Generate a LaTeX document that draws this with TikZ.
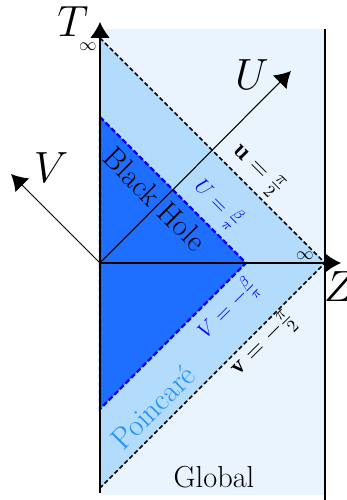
\documentclass[tikz,border=0pt]{standalone}
\usepackage{fontspec}
\usetikzlibrary{arrows.meta}
\definecolor{globalblue}{RGB}{234,244,254}
\definecolor{poinblue}{RGB}{179,219,251}
\definecolor{bhblue}{RGB}{30,110,255}
\definecolor{poinText}{RGB}{30,144,255}
\begin{document}
\begin{tikzpicture}[x=0.02cm,y=-0.02cm,
  axis/.style={line width=0.6pt,-{Latex[length=9pt,width=11pt]}},
  edge/.style={line width=1pt},
  bdash/.style={line width=0.9pt, dash pattern=on 2.5pt off 1.5pt},
  bluedash/.style={blue, line width=1.3pt, dash pattern=on 3pt off 1.5pt},
  axlab/.style={font=\Huge, inner sep=0pt},
  region/.style={font=\LARGE, inner sep=0pt},
  mathlab/.style={font=\Large, inner sep=0pt},
  bluelab/.style={font=\large, inner sep=0pt, text=blue}]
\useasboundingbox (0,0) rectangle (346,500);
% regions
\fill[globalblue] (100,29) rectangle (325,495);
\fill[poinblue] (100,38) -- (325,263) -- (100,488) -- cycle;
\fill[bhblue] (100,117) -- (246,263) -- (100,409) -- cycle;
\draw[bluedash] (100,117) -- (246,263) -- (100,409) -- cycle;
\draw[bdash] (100,38) -- (325,263) -- (100,488);
\draw[edge] (325,29) -- (325,500);
\draw[edge] (100,493) -- (100,263);
% axes
\coordinate (O) at (100,263);
\coordinate (Ttip) at (100,22);
\coordinate (Ztip) at (341,263);
\coordinate (Utip) at (291,71);
\coordinate (Vtip) at (11,174);
\draw[axis] (O) -- (Ttip);
\draw[axis] (O) -- (Ztip);
\draw[axis] (O) -- (Utip);
\draw[axis] (O) -- (Vtip);
% axis labels
\node[axlab] (T) at (73,22) {$T$};
\node[axlab] (Z) at (340,287) {$Z$};
\node[axlab] (U) at (252,75) {$U$};
\node[axlab] (V) at (51,168) {$V$};
\node[inner sep=0pt] (inftop) at (88,47) {$\infty$};
\node[inner sep=0pt] (infright) at (305,256) {$\infty$};
% region labels
\node[region, rotate=-45] (bh) at (155,199) {Black Hole};
\node[region, rotate=45, text=poinText] (poin) at (153,407) {Poincaré};
\node[region] (global) at (214,477) {Global};
% boundary labels
\node[mathlab, rotate=-45] (uhat) at (258,170) {$\mathbf{u}=\frac{\pi}{2}$};
\node[bluelab, rotate=-45] (Ubeta) at (218,204) {$U=\frac{\beta}{\pi}$};
\node[bluelab, rotate=45] (Vbeta) at (228,309) {$V=-\frac{\beta}{\pi}$};
\node[mathlab, rotate=45] (vhat) at (264,345) {$\mathbf{v}=-\frac{\pi}{2}$};
\end{tikzpicture}
\end{document}
